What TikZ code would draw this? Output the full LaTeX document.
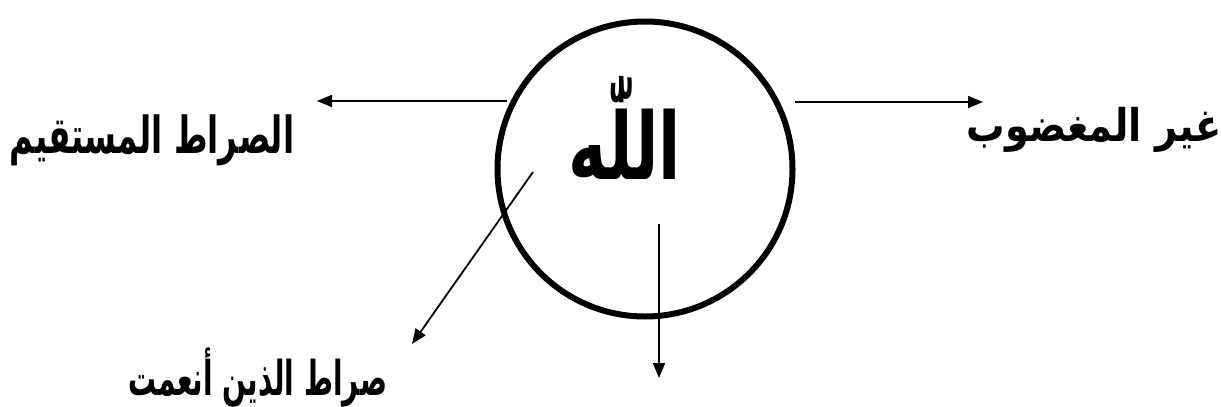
\documentclass[tikz,border=0pt]{standalone}
\usepackage{fontspec}
\usepackage{graphicx}
\newfontfamily\arabicfont[Script=Arabic]{DejaVu Sans}
\usetikzlibrary{arrows.meta}
\TeXXeTstate=1
\begin{document}
\begin{tikzpicture}[x=1pt,y=-1pt,
  conn/.style={line width=1.8pt, -{Triangle[length=15pt,width=12pt]}},
  lbl/.style={font=\arabicfont\bfseries\fontsize{30}{32}\selectfont, inner sep=0pt},
  ring/.style={circle, draw, line width=6pt, minimum size=295pt, inner sep=0pt}]
\useasboundingbox (0,0) rectangle (1221,407);
\node[ring] (ring) at (645,169) {};
\node[font=\arabicfont\bfseries\fontsize{58}{62}\selectfont, inner sep=0pt] (allah) at (625,128) {\scalebox{1.12}[1.6]{\beginR اللّٰه\endR}};
\node[lbl] (straight) at (152,140) {\scalebox{1.08}[1.7]{\beginR الصراط المستقيم\endR}};
\node[lbl] (notwrath) at (1094,130) {\scalebox{1.28}[1.5]{\beginR غير المغضوب\endR}};
\node[lbl] (favoured) at (258,378) {\scalebox{0.93}[1.6]{\beginR صراط الذين أنعمت\endR}};
\coordinate (ls) at (507,101);
\coordinate (le) at (317,101);
\coordinate (rs) at (795,102);
\coordinate (re) at (983,102);
\coordinate (ds) at (659,224);
\coordinate (de) at (659,378);
\coordinate (gs) at (533,172);
\coordinate (ge) at (412,344);
\draw[conn] (ls) -- (le);
\draw[conn] (rs) -- (re);
\draw[conn] (ds) -- (de);
\draw[conn] (gs) -- (ge);
\end{tikzpicture}
\end{document}
